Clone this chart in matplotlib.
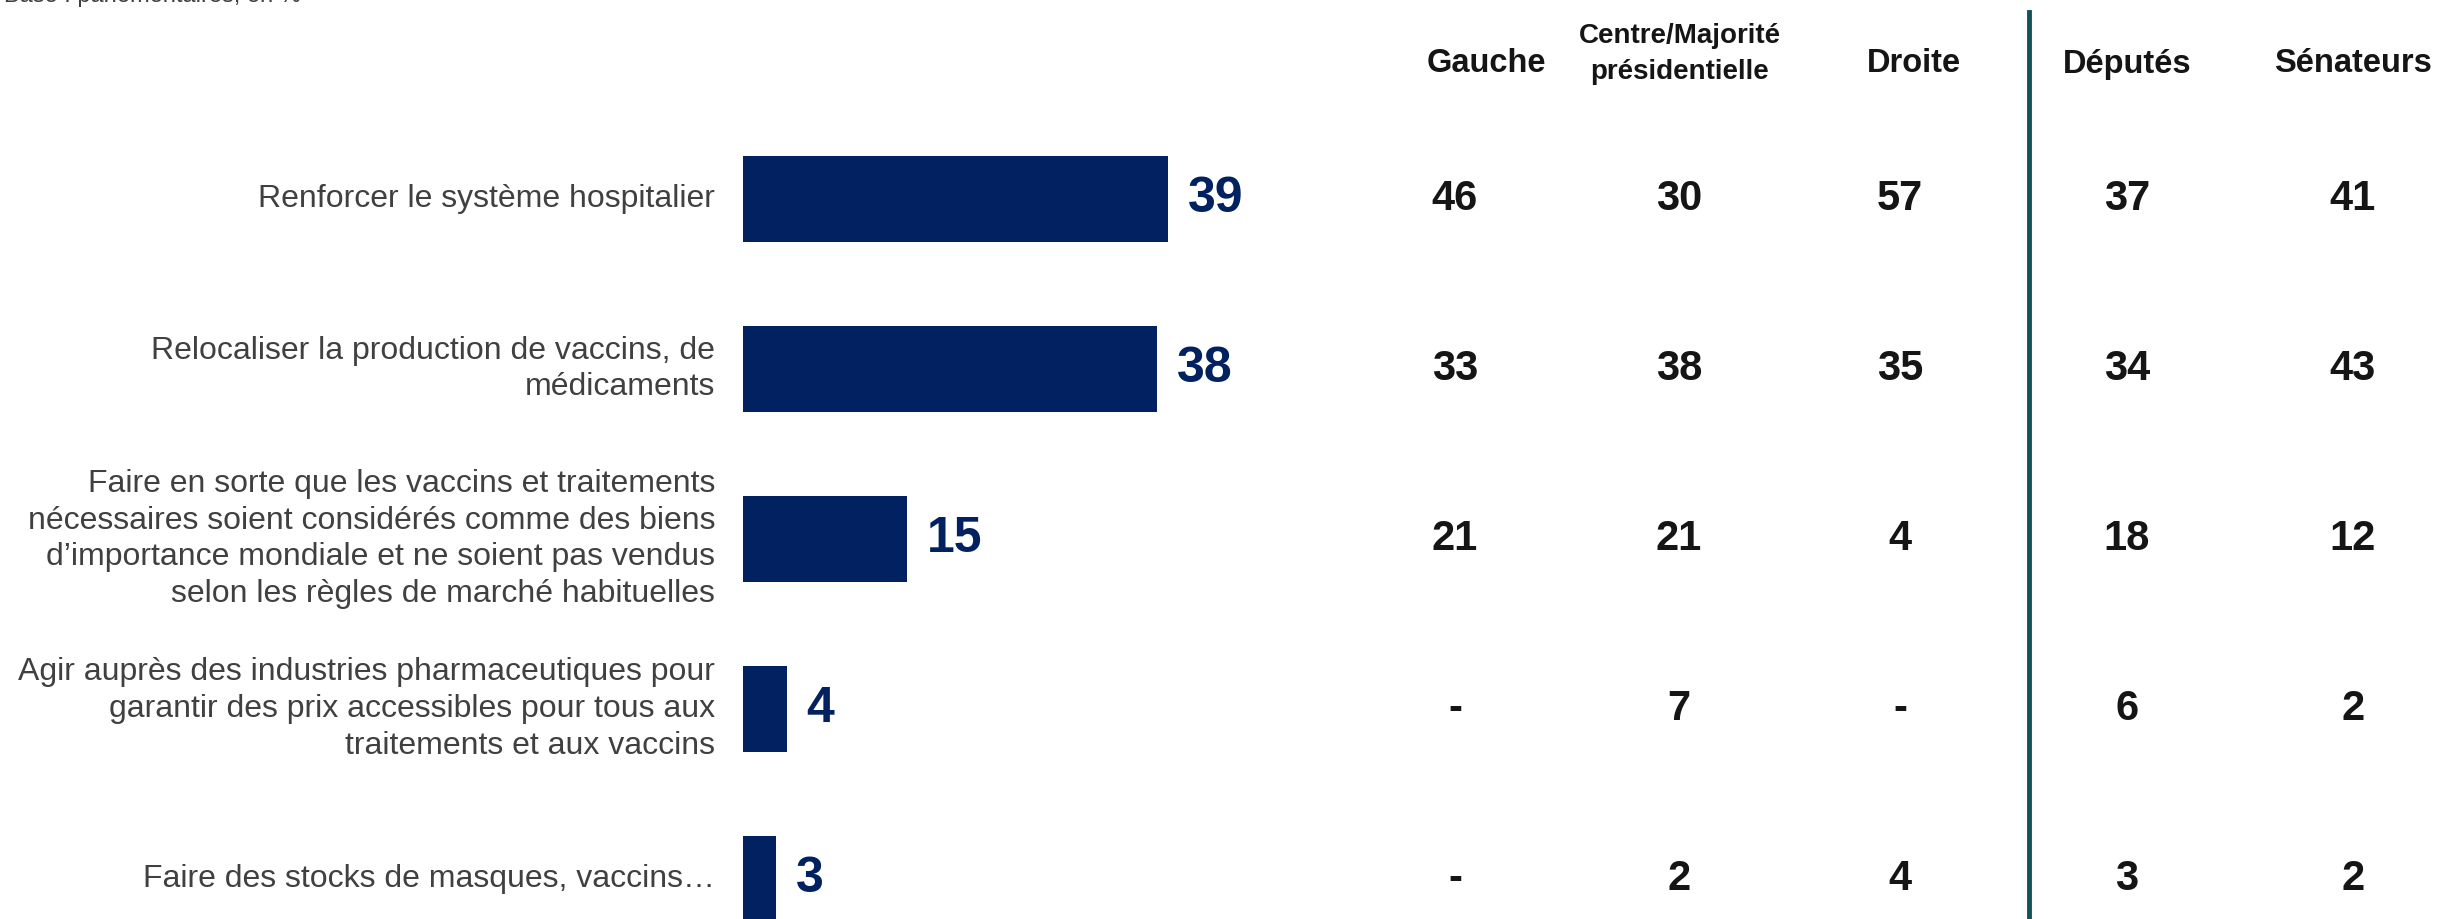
import matplotlib
matplotlib.use("Agg")
import matplotlib.pyplot as plt
import matplotlib.transforms as mtransforms

plt.rcParams['font.family'] = ['Liberation Sans', 'DejaVu Sans']

categories = [
    "Renforcer le système hospitalier",
    "Relocaliser la production de vaccins, de\nmédicaments",
    "Faire en sorte que les vaccins et traitements\nnécessaires soient considérés comme des biens\nd’importance mondiale et ne soient pas vendus\nselon les règles de marché habituelles",
    "Agir auprès des industries pharmaceutiques pour\ngarantir des prix accessibles pour tous aux\ntraitements et aux vaccins",
    "Faire des stocks de masques, vaccins…",
]
total = [39, 38, 15, 4, 3]

groups = ["Gauche", "Centre/Majorité\nprésidentielle", "Droite", "Députés", "Sénateurs"]
group_values = [
    ["46", "33", "21", "-", "-"],
    ["30", "38", "21", "7", "2"],
    ["57", "35", "4", "-", "4"],
    ["37", "34", "18", "6", "3"],
    ["41", "43", "12", "2", "2"],
]

W, H = 2438, 919
fig = plt.figure(figsize=(W / 100, H / 100), dpi=100)

NAVY = "#022160"
GREY = "#404040"
INK = "#151515"

bar_left = 743
px_per_unit = 10.9
ax = fig.add_axes([bar_left / W, 0, (W - bar_left) / W, 1])
ax.set_xlim(0, (W - bar_left) / px_per_unit)
row0, step = 199, 170
ax.set_ylim((H - row0) / step, -row0 / step)
ax.axis("off")

ypos = list(range(len(categories)))
ax.barh(ypos, total, height=0.51, color=NAVY)

for y, v in zip(ypos, total):
    ax.text(v + 20 / px_per_unit, y, str(v), ha="left", va="center",
            fontsize=36, fontweight="bold", color=NAVY)

# category labels, right aligned next to the bars
lab_tr = mtransforms.blended_transform_factory(fig.transFigure, ax.transData)
for y, c in zip(ypos, categories):
    ax.text(715 / W, y, c, transform=lab_tr, ha="right", va="center",
            fontsize=23, color=GREY, linespacing=1.3)

# breakdown columns: value columns and their (slightly offset) headers
col_x = [1455, 1679, 1900, 2127, 2353]
head_x = [1486, 1680, 1914, 2127, 2353]
for cx, hx, g, vals in zip(col_x, head_x, groups, group_values):
    two_lines = "\n" in g
    fig.text(hx / W, 1 - (54 if two_lines else 64) / H, g, ha="center", va="center",
             fontsize=20 if two_lines else 23.5, fontweight="bold", color=INK,
             linespacing=1.5)
    for y, s in zip(ypos, vals):
        ax.text(cx / W, y, s, transform=lab_tr, ha="center", va="center",
                fontsize=30, fontweight="bold", color=INK)

# separator between party groups and chambers
fig.add_artist(plt.Line2D([2029 / W, 2029 / W], [0, 1 - 12 / H],
                          transform=fig.transFigure, color="#0F5257", lw=3.5))

# base note at the top edge
fig.text(4 / W, 1 - 2 / H, "Base : parlementaires, en %",
         ha="left", va="baseline", fontsize=17, color=GREY)

fig.savefig("out.png", dpi=100)
